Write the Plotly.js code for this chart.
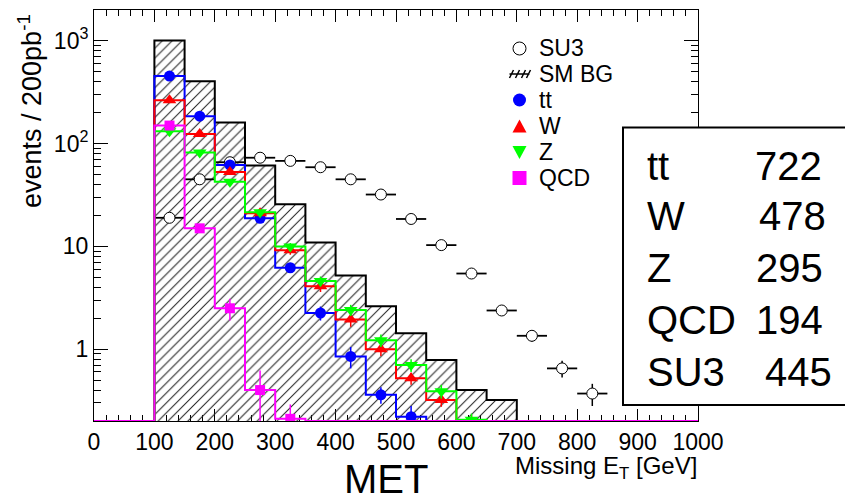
<!DOCTYPE html>
<html>
<head>
<meta charset="utf-8">
<script src="https://cdn.plot.ly/plotly-3.0.1.min.js"></script>
<style>html,body{margin:0;padding:0;background:#fff;}#chart{width:845px;height:498px;}</style>
</head>
<body>
<div id="chart"></div>
<script>
// ---- data ----
const binLow = [0,50,100,150,200,250,300,350,400,450,500,550,600,650,700,750,800,850,900,950];
const binWidth = 50;
const smBG   = [0,0,1010,406,161,61.4,25.8,10.9,5.2,2.62,1.43,0.785,0.40,0.32,0,0,0,0,0,0];
const ttVals = [0,0,455,185,62,18.8,6.2,2.25,0.85,0.36,0.22,0.07,0,0,0,0,0,0,0,0];
const ttErr  = [0,0,5,3,1.8,1.0,0.55,0.35,0.2,0.065,0.06,0.04,0,0,0,0,0,0,0,0];
const wVals  = [0,0,265,124,53,21,9.2,4.1,1.95,1.0,0.52,0.32,0.19,0.15,0,0,0,0,0,0];
const wErr   = [0,0,6,4,2.5,1.5,0.9,0.5,0.3,0.14,0.07,0.045,0.04,0.04,0,0,0,0,0,0];
const zVals  = [0,0,132,82,42.5,21.5,10.0,4.6,2.4,1.22,0.70,0.39,0.206,0.17,0,0,0,0,0,0];
const zErr   = [0,0,4,3,2,1.3,0.8,0.5,0.3,0.17,0.1,0.06,0.03,0.03,0,0,0,0,0,0];
const qcdVals= [0,0,150,15,2.5,0.40,0.21,0,0,0,0,0,0,0,0,0,0,0,0,0];
const qcdErr = [0,0,8,1.5,0.6,0.22,0.08,0,0,0,0,0,0,0,0,0,0,0,0,0];
const su3Vals= [0,0,19,45,66,73,68,59,45,32,18.5,10.3,5.45,2.38,1.35,0.65,0.37,0,0,0];
const su3Err = [0,0,0.65,1.0,1.2,1.27,1.22,1.14,0.99,0.84,0.64,0.48,0.35,0.23,0.17,0.12,0.09,0,0,0];
const yTickVals = [1,10,100,1000];
const yTickText = ['1','10','10<sup>2</sup>','10<sup>3</sup>'];
const legendNames = ['SU3','SM BG','tt','W','Z','QCD'];
const statsLabels = ['tt','W','Z','QCD','SU3'];
const statsValues = ['722','478','295','194','445'];

// ---- layout helpers ----
const W = 845, H = 498;
const M = {l:94, r:147, t:10, b:77};
const PW = W - M.l - M.r, PH = H - M.t - M.b;
const xp = px => (px - M.l) / PW;
const yp = py => 1 - (py - M.t) / PH;
const yMin = 0.2, yMax = 2000;
const FONT = 'Liberation Sans, Arial, Helvetica, sans-serif';

function stepTrace(vals, color, extra) {
  const x = binLow.concat([binLow[binLow.length-1] + binWidth]);
  const y = vals.map(v => Math.max(v, yMin));
  y.push(y[y.length-1]);
  return Object.assign({
    type:'scatter', mode:'lines', x:x, y:y,
    line:{shape:'hv', color:color, width:2},
    showlegend:false, hoverinfo:'skip'
  }, extra || {});
}
function markerTrace(name, vals, errs, color, symbol, size) {
  const x = [], y = [], e = [];
  vals.forEach((v,i) => { if (v > 0) { x.push(binLow[i] + binWidth/2); y.push(v); e.push(errs[i]); } });
  return {
    type:'scatter', mode:'markers', name:name, x:x, y:y, showlegend:false,
    marker:{color:color, symbol:symbol, size:size, line:{width:0}},
    error_y:{type:'data', array:e, visible:true, color:color, thickness:1.5, width:0}
  };
}

const traces = [];
traces.push(stepTrace(smBG, 'black', {
  name:'SM BG', fill:'toself', fillcolor:'rgba(0,0,0,0)',
  fillpattern:{shape:'/', size:7, solidity:0.15, fgcolor:'#222', bgcolor:'rgba(0,0,0,0)'}
}));
(function(){
  const x = [], y = [], e = [];
  su3Vals.forEach((v,i) => { if (v > 0) { x.push(binLow[i] + binWidth/2); y.push(v); e.push(su3Err[i]); } });
  traces.push({
    type:'scatter', mode:'markers', name:'SU3', x:x, y:y, showlegend:false,
    marker:{color:'white', symbol:'circle', size:11, line:{color:'black', width:1}},
    error_x:{type:'constant', value:binWidth/2, color:'black', thickness:1.8, width:0},
    error_y:{type:'data', array:e, color:'black', thickness:1.5, width:0}
  });
})();
traces.push(stepTrace(ttVals, '#0000ff'));
traces.push(markerTrace('tt', ttVals, ttErr, '#0000ff', 'circle', 11));
traces.push(stepTrace(wVals, '#ff0000'));
traces.push(markerTrace('W', wVals, wErr, '#ff0000', 'triangle-up', 12));
traces.push(stepTrace(zVals, '#00ff00'));
traces.push(markerTrace('Z', zVals, zErr, '#00ff00', 'triangle-down', 12));
traces.push(stepTrace(qcdVals, '#ff00ff'));
traces.push(markerTrace('QCD', qcdVals, qcdErr, '#ff00ff', 'square', 10));

const annotations = [
  {text:'events / 200pb<sup>-1</sup>', textangle:-90, xref:'paper', yref:'paper',
   x:xp(30), y:yp(111), xanchor:'center', yanchor:'middle', showarrow:false,
   font:{family:FONT, size:27, color:'black'}},
  {text:'Missing E<sub>T</sub> [GeV]', xref:'paper', yref:'paper',
   x:xp(699), y:yp(467), xanchor:'right', yanchor:'middle', showarrow:false,
   font:{family:FONT, size:24, color:'black'}},
  {text:'MET', xref:'paper', yref:'paper',
   x:xp(386), y:yp(479), xanchor:'center', yanchor:'middle', showarrow:false,
   font:{family:FONT, size:40, color:'black'}}
];
const rowY = [166, 216, 268, 320, 372];
const numX = [753, 757, 754, 754, 763];
statsLabels.forEach((s,i) => {
  annotations.push({text:s, xref:'paper', yref:'paper', x:xp(645), y:yp(rowY[i]),
    xanchor:'left', yanchor:'middle', showarrow:false, font:{family:FONT, size:40, color:'black'}});
  annotations.push({text:statsValues[i], xref:'paper', yref:'paper', x:xp(numX[i]), y:yp(rowY[i]),
    xanchor:'left', yanchor:'middle', showarrow:false, font:{family:FONT, size:40, color:'black'}});
});
// legend texts
const legY = [48.5, 74, 100, 126.5, 152, 178];
legendNames.forEach((s,i) => {
  annotations.push({text:s, xref:'paper', yref:'paper', x:xp(537), y:yp(legY[i]),
    xanchor:'left', yanchor:'middle', showarrow:false, font:{family:FONT, size:23, color:'black'}});
});
// legend symbols (decoration, pixel-sized shapes anchored in paper space)
const LX = xp(519.5);
function pxShape(type, cy, extra) {
  return Object.assign({type:type, xref:'paper', yref:'paper', xsizemode:'pixel', ysizemode:'pixel',
    xanchor:LX, yanchor:yp(cy), layer:'above'}, extra);
}
const shapes = [
  pxShape('circle', legY[0], {x0:-6.5, x1:6.5, y0:-6.5, y1:6.5, fillcolor:'white', line:{color:'black', width:1}}),
  pxShape('path', legY[1], {path:'M-10,0 L10,0 M-10,-4 L-6,4 M-4,-4 L0,4 M2,-4 L6,4 M7,-4 L11,4', line:{color:'black', width:1.5}}),
  pxShape('circle', legY[2], {x0:-6.5, x1:6.5, y0:-6.5, y1:6.5, fillcolor:'#0000ff', line:{color:'#0000ff', width:0}}),
  pxShape('path', legY[3], {path:'M-7,-6 L7,-6 L0,7 Z', fillcolor:'#ff0000', line:{color:'#ff0000', width:0}}),
  pxShape('path', legY[4], {path:'M-7,6 L7,6 L0,-7 Z', fillcolor:'#00ff00', line:{color:'#00ff00', width:0}}),
  pxShape('rect', legY[5], {x0:-7, x1:7, y0:-7, y1:7, fillcolor:'#ff00ff', line:{color:'#ff00ff', width:0}}),
  {type:'rect', xref:'paper', yref:'paper', x0:xp(623), x1:xp(852), y0:yp(405), y1:yp(127.5),
   fillcolor:'white', line:{color:'black', width:2}, layer:'above'}
];

const layout = {
  width:W, height:H, margin:M,
  paper_bgcolor:'white', plot_bgcolor:'white',
  font:{family:FONT, color:'black'},
  showlegend:false,
  xaxis:{range:[0,1000], showline:true, linecolor:'black', linewidth:1, mirror:'ticks',
         ticks:'inside', ticklen:12, tickwidth:1, tickcolor:'black', tick0:0, dtick:100,
         minor:{dtick:20, ticks:'inside', ticklen:6, tickwidth:1, tickcolor:'black'},
         showgrid:false, zeroline:false, layer:'below traces',
         tickfont:{family:FONT, size:23, color:'black'}},
  yaxis:{type:'log', range:[Math.log10(yMin), Math.log10(yMax)], showline:true, linecolor:'black',
         linewidth:1, mirror:'ticks', ticks:'inside', ticklen:14, tickwidth:1, tickcolor:'black',
         tickmode:'array', tickvals:yTickVals, ticktext:yTickText,
         minor:{dtick:'D1', ticks:'inside', ticklen:7, tickwidth:1, tickcolor:'black', showgrid:false},
         showgrid:false, zeroline:false, layer:'below traces',
         tickfont:{family:FONT, size:23, color:'black'}},
  shapes:shapes,
  annotations:annotations
};
Plotly.newPlot('chart', traces, layout, {staticPlot:true, displayModeBar:false});
</script>
</body>
</html>
